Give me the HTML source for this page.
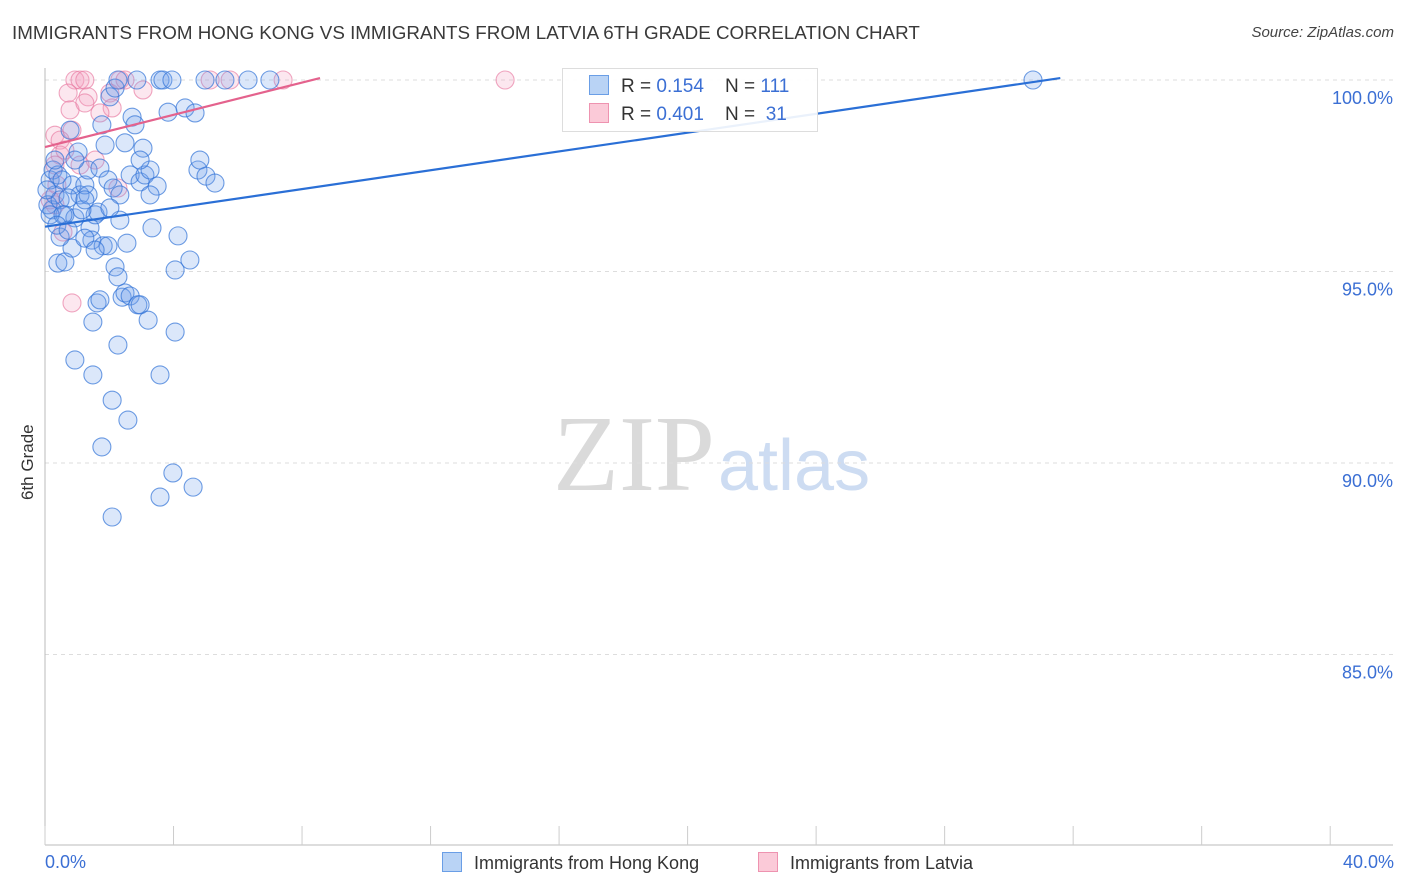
<!DOCTYPE html>
<html><head><meta charset="utf-8"><style>
body{margin:0;background:#fff;font-family:"Liberation Sans",sans-serif;}
#wrap{position:relative;width:1406px;height:892px;overflow:hidden;}
.t{position:absolute;white-space:nowrap;}
</style></head><body>
<div id="wrap">
<div class="t" style="left:12px;top:22px;font-size:18.8px;color:#3a3a3a;">IMMIGRANTS FROM HONG KONG VS IMMIGRANTS FROM LATVIA 6TH GRADE CORRELATION CHART</div>
<div class="t" style="right:12px;top:24px;font-size:15px;color:#444;font-style:italic;">Source: ZipAtlas.com</div>
<div class="t" style="left:18px;font-size:17px;color:#333;transform:rotate(-90deg);transform-origin:left top;top:500px;">6th Grade</div>
<svg id="plot" width="1406" height="892" style="position:absolute;left:0;top:0"></svg>
<div class="t" style="left:45px;top:852px;font-size:18px;color:#3b6fd4;">0.0%</div>
<div class="t" style="right:12px;top:852px;font-size:18px;color:#3b6fd4;">40.0%</div>
<div class="t" style="left:442px;top:852px;font-size:18px;color:#333;"><span style="display:inline-block;width:18px;height:18px;background:#b9d3f5;border:1.5px solid #6a9ee6;vertical-align:-3px;margin-right:12px;"></span>Immigrants from Hong Kong</div>
<div class="t" style="left:758px;top:852px;font-size:18px;color:#333;"><span style="display:inline-block;width:18px;height:18px;background:#fbcad8;border:1.5px solid #ee93b0;vertical-align:-3px;margin-right:12px;"></span>Immigrants from Latvia</div>
<div class="t" style="left:562px;top:68px;width:254px;height:62px;border:1px solid #ddd;background:rgba(255,255,255,0.9);font-size:19px;color:#333;">
 <div style="position:absolute;left:26px;top:6px;"><span style="display:inline-block;width:18px;height:18px;background:#b9d3f5;border:1.5px solid #6a9ee6;vertical-align:-3px;margin-right:12px;"></span>R = <span style="color:#3b6fd4">0.154</span>&nbsp;&nbsp;&nbsp; N = <span style="color:#3b6fd4">111</span></div>
 <div style="position:absolute;left:26px;top:34px;"><span style="display:inline-block;width:18px;height:18px;background:#fbcad8;border:1.5px solid #ee93b0;vertical-align:-3px;margin-right:12px;"></span>R = <span style="color:#3b6fd4">0.401</span>&nbsp;&nbsp;&nbsp; N = <span style="color:#3b6fd4">&nbsp;31</span></div>
</div>
</div>
<script>
const yTicks=[100,95,90,85];
const xTicks=[0,4,8,12,16,20,24,28,32,36,40];
const blueX=[.22,.31,.16,.09,.25,.40,.47,.62,.78,.93,1.03,.84,1.09,1.24,1.34,1.40,1.46,1.56,1.65,1.71,1.77,1.87,1.96,2.02,2.12,2.18,2.27,2.33,2.49,2.55,2.65,2.71,2.80,2.86,2.96,3.05,3.11,3.27,3.33,3.49,3.58,3.67,3.83,3.95,4.05,4.14,4.36,4.51,4.67,4.76,4.82,4.98,5.01,5.29,5.60,6.32,7.00,30.75,.40,.62,.84,.93,1.24,1.49,1.62,1.71,1.81,1.96,2.09,2.18,2.27,2.27,2.40,2.49,2.58,2.65,2.89,2.96,3.21,3.58,3.58,3.98,4.05,4.61,2.09,1.77,.47,.72,1.15,1.56,.16,.53,.31,.56,.93,1.34,2.33,2.96,3.27,2.02,1.49,.06,.37,.72,1.24];
const blueY=[96.61,97.00,97.39,96.74,97.65,97.52,96.87,96.48,98.69,96.40,98.12,97.26,97.00,97.26,97.65,96.14,95.82,96.48,96.55,97.70,98.83,98.30,97.39,99.56,97.18,99.79,100,96.34,98.36,95.74,97.52,99.03,98.83,100,97.34,98.22,97.52,97.65,96.14,97.23,100,100,99.16,100,95.04,95.93,99.27,95.30,99.14,97.65,97.91,100,97.49,97.31,100,100,100,100,95.22,95.25,95.61,92.69,95.87,92.30,94.18,94.26,95.67,95.67,91.64,95.12,94.86,93.08,94.33,94.44,91.12,94.36,94.13,94.13,93.73,92.30,89.11,89.74,93.42,89.37,88.59,90.42,95.90,96.92,96.61,95.56,96.48,97.39,97.91,96.48,97.91,97.00,97.00,97.91,97.00,96.66,93.68,97.13,96.21,96.08,96.87];
const pinkX=[.93,1.09,1.24,.72,.78,1.34,1.24,.84,.31,.47,.47,.31,.62,2.02,2.09,2.33,2.49,3.05,1.71,2.27,1.56,.84,5.14,5.76,7.41,14.32,.56,.31,.16,1.09,.37];
const pinkY=[100,100,100,99.66,99.22,99.56,99.40,98.69,98.56,98.43,98.04,97.78,98.17,99.66,99.27,100,100,99.74,99.14,97.18,97.91,94.18,100,100,100,100,96.03,96.74,96.87,97.78,97.26];
const blueTrend=[[0,96.17],[31.6,100.05]];
const pinkTrend=[[0,98.25],[8.56,100.05]];
const NS='http://www.w3.org/2000/svg';
const X=v=>45+v*32.13, Y=v=>80+(100-v)*38.3;
const svg=document.getElementById('plot');
function mk(t,a){const e=document.createElementNS(NS,t);for(const k in a)e.setAttribute(k,a[k]);svg.appendChild(e);return e;}
let w=mk('text',{x:553,y:490,'font-size':108,'font-family':'Liberation Serif,serif',fill:'#dadada'});w.textContent='ZIP';


let w2=mk('text',{x:718,y:490,'font-size':72,'font-family':'Liberation Sans,sans-serif',fill:'#cddcf2'});w2.textContent='atlas';


yTicks.forEach(v=>{
 const g=mk('line',{x1:45,x2:1393,y1:Y(v),y2:Y(v),stroke:'#ddd','stroke-dasharray':'4,4'});
 
 
 const t=mk('text',{x:1393,y:Y(v)+24,'text-anchor':'end','font-size':18,fill:'#3b6fd4','font-family':'Liberation Sans,sans-serif'});
 t.textContent=v.toFixed(1)+'%';
 
 
});
const ax=mk('line',{x1:45,x2:45,y1:68,y2:845,stroke:'#bbb'});


const bx=mk('line',{x1:45,x2:1393,y1:845,y2:845,stroke:'#bbb'});


xTicks.forEach(v=>{
 const t=mk('line',{x1:X(v),x2:X(v),y1:826,y2:845,stroke:'#ccc'});
 
 
});
function pts(xs,ys,fill,stroke,name){xs.forEach((x,i)=>{
 const c=mk('circle',{cx:X(x),cy:Y(ys[i]),r:9,fill:fill,stroke:stroke,'stroke-width':1.1});
 
 
});}
pts(pinkX,pinkY,'rgba(245,160,190,0.25)','rgba(232,120,160,0.65)','latvia-point');
pts(blueX,blueY,'rgba(110,160,235,0.25)','rgba(50,115,215,0.7)','hong-kong-point');
const bl=mk('line',{x1:X(blueTrend[0][0]),y1:Y(blueTrend[0][1]),x2:X(blueTrend[1][0]),y2:Y(blueTrend[1][1]),stroke:'#2a6fd6','stroke-width':2.2});


const pl=mk('line',{x1:X(pinkTrend[0][0]),y1:Y(pinkTrend[0][1]),x2:X(pinkTrend[1][0]),y2:Y(pinkTrend[1][1]),stroke:'#e4628d','stroke-width':2.2});


</script>
</body></html>
